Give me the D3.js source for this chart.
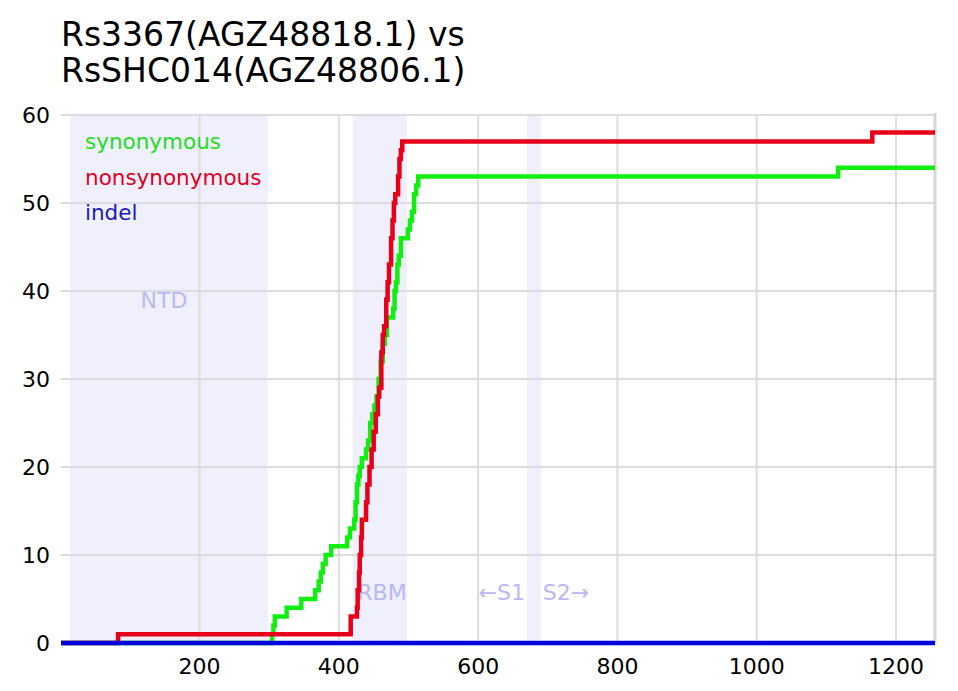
<!DOCTYPE html>
<html>
<head>
<meta charset="utf-8">
<script src="https://cdn.jsdelivr.net/npm/d3@7"></script>
<style>
  body { margin: 0; background: #fff; }
  text { font-family: "DejaVu Sans", sans-serif; }
</style>
</head>
<body>
<div id="chart-container"></div>
<script>
// cumulative step data: [residue position, count]
const synonymous = [[1,0],[304,1],[306,2],[308,3],[325,4],[346,5],[366,6],[371,7],[374,8],[377,9],[381,10],[389,11],[412,12],[416,13],[422,14],[424,16],[426,18],[428,19],[430,20],[433,21],[439,22],[442,23],[445,25],[448,26],[451,27],[454,28],[457,30],[460,32],[463,34],[466,35],[469,37],[478,38],[480,40],[482,41],[484,43],[486,44],[489,46],[499,47],[502,48],[505,49],[508,51],[511,52],[514,53],[1117,54],[1256,54]];
const nonsynonymous = [[1,0],[83,1],[417,3],[426,4],[427,6],[429,8],[430,10],[432,12],[433,14],[439,16],[441,18],[444,20],[447,22],[450,24],[453,26],[456,28],[458,29],[461,33],[463,35],[465,36],[468,39],[470,41],[472,43],[475,46],[477,48],[479,50],[481,51],[485,53],[487,55],[489,56],[491,57],[1166,58],[1256,58]];
const indel = [[1,0],[1256,0]];

const regions = [
  { name: "NTD", start: 14, end: 298 },
  { name: "RBM", start: 420, end: 498 },
  { name: "S1/S2", start: 670, end: 690 }
];
const xTicks = [200, 400, 600, 800, 1000, 1200];
const yTicks = [0, 10, 20, 30, 40, 50, 60];
const titleLines = ["Rs3367(AGZ48818.1) vs", "RsSHC014(AGZ48806.1)"];

const W = 958, H = 691;
const margin = { top: 115, right: 23, bottom: 48, left: 61 };
const width = W - margin.left - margin.right;
const height = H - margin.top - margin.bottom;

const svg = d3.select("#chart-container")
    .append("svg")
    .attr("width", W)
    .attr("height", H);

const g = svg.append("g")
    .attr("transform", `translate(${margin.left},${margin.top})`);

const x = d3.scaleLinear().domain([1, 1256]).range([0, width]);
const y = d3.scaleLinear().domain([0, 60]).range([height, 0]);

// shaded regions
g.selectAll(".region")
    .data(regions)
    .enter()
    .append("rect")
    .attr("x", d => x(d.start))
    .attr("width", d => x(d.end) - x(d.start))
    .attr("y", 0)
    .attr("height", height)
    .attr("fill", "#f0f0fd");

// grid
g.selectAll(".vgrid")
    .data(xTicks)
    .enter()
    .append("line")
    .attr("x1", d => x(d)).attr("x2", d => x(d))
    .attr("y1", 0).attr("y2", height)
    .attr("stroke", "#dcdce2")
    .attr("stroke-width", 2);

g.selectAll(".hgrid")
    .data(yTicks)
    .enter()
    .append("line")
    .attr("x1", 0).attr("x2", width)
    .attr("y1", d => y(d)).attr("y2", d => y(d))
    .attr("stroke", "#dcdce2")
    .attr("stroke-width", 2);

// right border
g.append("line")
    .attr("x1", width).attr("x2", width)
    .attr("y1", -2).attr("y2", height)
    .attr("stroke", "#d6d6d6")
    .attr("stroke-width", 3);

// region labels
const regionLabel = "#b9b9ef";
g.append("text")
    .attr("x", x((regions[0].start + regions[0].end) / 2) - 5)
    .attr("y", 193)
    .attr("text-anchor", "middle")
    .style("font-size", "22px")
    .attr("fill", regionLabel)
    .text("NTD");
g.append("text")
    .attr("x", x((regions[1].start + regions[1].end) / 2) + 2)
    .attr("y", 485)
    .attr("text-anchor", "middle")
    .style("font-size", "22px")
    .attr("fill", regionLabel)
    .text("RBM");
g.append("text")
    .attr("x", x(regions[2].start) - 2)
    .attr("y", 485)
    .attr("text-anchor", "end")
    .style("font-size", "22px")
    .attr("fill", regionLabel)
    .text("\u2190S1");
g.append("text")
    .attr("x", x(regions[2].end) + 2)
    .attr("y", 485)
    .attr("text-anchor", "start")
    .style("font-size", "22px")
    .attr("fill", regionLabel)
    .text("S2\u2192");

// lines
const line = d3.line()
    .x(d => x(d[0]))
    .y(d => y(d[1]))
    .curve(d3.curveStepAfter);

const series = [
  { data: synonymous, color: "#11ee11" },
  { data: nonsynonymous, color: "#e60019" },
  { data: indel, color: "#0000dd" }
];
series.forEach(s => {
    g.append("path")
        .datum(s.data)
        .attr("fill", "none")
        .attr("stroke", s.color)
        .attr("stroke-width", 4.5)
        .attr("d", line);
});

// legend
const legend = [
  { label: "synonymous", color: "#22dd22" },
  { label: "nonsynonymous", color: "#dd0022" },
  { label: "indel", color: "#1a1ab8" }
];
g.selectAll(".legend")
    .data(legend)
    .enter()
    .append("text")
    .attr("x", 24)
    .attr("y", (d, i) => 34 + i * 35.5)
    .style("font-size", "21.5px")
    .attr("fill", d => d.color)
    .text(d => d.label);

// tick labels
g.selectAll(".xlab")
    .data(xTicks)
    .enter()
    .append("text")
    .attr("x", d => x(d))
    .attr("y", height + 31)
    .attr("text-anchor", "middle")
    .style("font-size", "22px")
    .text(d => d);

g.selectAll(".ylab")
    .data(yTicks)
    .enter()
    .append("text")
    .attr("x", -11)
    .attr("y", d => y(d) + 8)
    .attr("text-anchor", "end")
    .style("font-size", "22px")
    .text(d => d);

// title
svg.selectAll(".title")
    .data(titleLines)
    .enter()
    .append("text")
    .attr("x", 61)
    .attr("y", (d, i) => 46 + i * 36)
    .style("font-size", "33px")
    .text(d => d);
</script>
</body>
</html>
